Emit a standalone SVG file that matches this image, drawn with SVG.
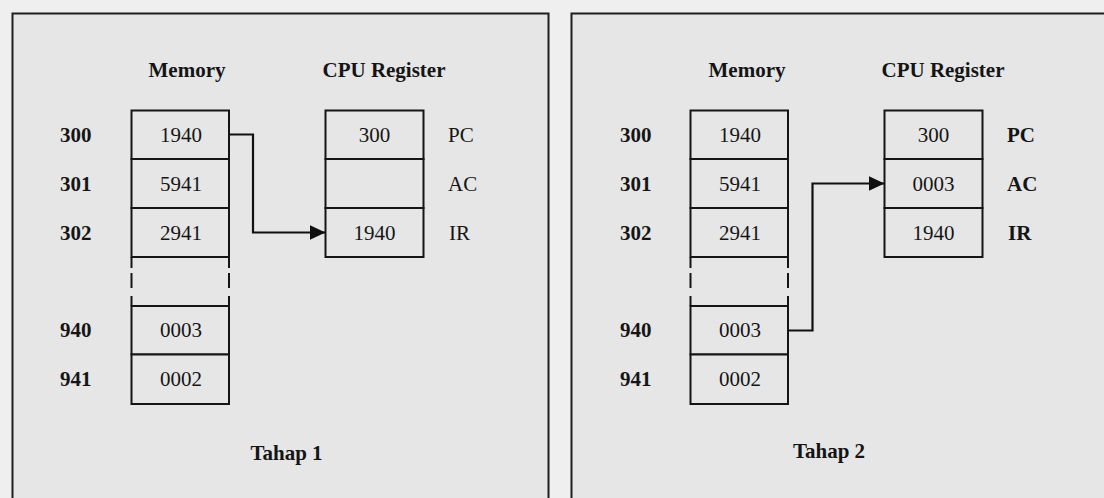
<svg xmlns="http://www.w3.org/2000/svg" width="1104" height="498" viewBox="0 0 1104 498">
<style>
text{font-family:"Liberation Serif","Times New Roman",serif;font-size:21px;fill:#151515}
.b{font-weight:bold}
.m{text-anchor:middle}
.panel{fill:#e6e6e6;stroke:#1e1e1e;stroke-width:2}
.cell{fill:#e6e6e6;stroke:#151515;stroke-width:2}
.line{fill:none;stroke:#151515;stroke-width:2}
.conn{fill:none;stroke:#101010;stroke-width:2.2}
</style>
<defs>
<marker id="ah" markerUnits="userSpaceOnUse" markerWidth="17" markerHeight="16" refX="16" refY="7.5" orient="auto">
<path d="M0,0 L16,7.5 L0,15 z" fill="#101010"/>
</marker>
</defs>
<rect x="0" y="0" width="1104" height="498" fill="#efefef"/>
<g id="panel1">
<rect class="panel" x="12.5" y="13.5" width="536" height="500"/>
</g>
<g id="panel2">
<rect class="panel" x="571.5" y="13.5" width="540" height="500"/>
</g>

<!-- Panel 1 -->
<g id="p1-headers">
<text class="b m" x="187" y="77">Memory</text>
<text class="b m" x="384" y="77">CPU Register</text>
</g>
<g id="p1-addr">
<text class="b" x="60" y="142">300</text>
<text class="b" x="60" y="190.5">301</text>
<text class="b" x="60" y="239.5">302</text>
<text class="b" x="60" y="337">940</text>
<text class="b" x="60" y="386">941</text>
</g>
<g id="p1-mem300"><rect class="cell" x="131.5" y="110.5" width="97.5" height="48.5"/><text class="m" x="181" y="142">1940</text></g>
<g id="p1-mem301"><rect class="cell" x="131.5" y="159" width="97.5" height="49"/><text class="m" x="181" y="190.5">5941</text></g>
<g id="p1-mem302"><rect class="cell" x="131.5" y="208" width="97.5" height="49"/><text class="m" x="181" y="239.5">2941</text></g>
<g id="p1-gap">
<line class="line" x1="131.5" y1="257" x2="131.5" y2="268"/>
<line class="line" x1="131.5" y1="273" x2="131.5" y2="288"/>
<line class="line" x1="131.5" y1="296" x2="131.5" y2="306"/>
<line class="line" x1="229" y1="257" x2="229" y2="268"/>
<line class="line" x1="229" y1="273" x2="229" y2="288"/>
<line class="line" x1="229" y1="296" x2="229" y2="306"/>
</g>
<g id="p1-mem940"><rect class="cell" x="131.5" y="306" width="97.5" height="48.5"/><text class="m" x="181" y="337">0003</text></g>
<g id="p1-mem941"><rect class="cell" x="131.5" y="354.5" width="97.5" height="49.5"/><text class="m" x="181" y="386">0002</text></g>
<g id="p1-pc"><rect class="cell" x="325.5" y="110.5" width="98" height="48.5"/><text class="m" x="374.5" y="142">300</text><text x="448" y="142">PC</text></g>
<g id="p1-ac"><rect class="cell" x="325.5" y="159" width="98" height="49"/><text x="448" y="190.5">AC</text></g>
<g id="p1-ir"><rect class="cell" x="325.5" y="208" width="98" height="49"/><text class="m" x="374.5" y="239.5">1940</text><text x="449" y="239.5">IR</text></g>
<g id="p1-title"><text class="b m" x="286.5" y="460">Tahap 1</text></g>

<!-- Panel 2 -->
<g id="p2-headers">
<text class="b m" x="747" y="77">Memory</text>
<text class="b m" x="943" y="77">CPU Register</text>
</g>
<g id="p2-addr">
<text class="b" x="620" y="142">300</text>
<text class="b" x="620" y="190.5">301</text>
<text class="b" x="620" y="239.5">302</text>
<text class="b" x="620" y="337">940</text>
<text class="b" x="620" y="386">941</text>
</g>
<g id="p2-mem300"><rect class="cell" x="690.5" y="110.5" width="97.5" height="48.5"/><text class="m" x="740" y="142">1940</text></g>
<g id="p2-mem301"><rect class="cell" x="690.5" y="159" width="97.5" height="49"/><text class="m" x="740" y="190.5">5941</text></g>
<g id="p2-mem302"><rect class="cell" x="690.5" y="208" width="97.5" height="49"/><text class="m" x="740" y="239.5">2941</text></g>
<g id="p2-gap">
<line class="line" x1="690.5" y1="257" x2="690.5" y2="268"/>
<line class="line" x1="690.5" y1="273" x2="690.5" y2="288"/>
<line class="line" x1="690.5" y1="296" x2="690.5" y2="306"/>
<line class="line" x1="788" y1="257" x2="788" y2="268"/>
<line class="line" x1="788" y1="273" x2="788" y2="288"/>
<line class="line" x1="788" y1="296" x2="788" y2="306"/>
</g>
<g id="p2-mem940"><rect class="cell" x="690.5" y="306" width="97.5" height="48.5"/><text class="m" x="740" y="337">0003</text></g>
<g id="p2-mem941"><rect class="cell" x="690.5" y="354.5" width="97.5" height="49.5"/><text class="m" x="740" y="386">0002</text></g>
<g id="p2-pc"><rect class="cell" x="884.5" y="110.5" width="98" height="48.5"/><text class="m" x="933.5" y="142">300</text><text class="b" x="1007" y="142">PC</text></g>
<g id="p2-ac"><rect class="cell" x="884.5" y="159" width="98" height="49"/><text class="m" x="933.5" y="190.5">0003</text><text class="b" x="1007" y="190.5">AC</text></g>
<g id="p2-ir"><rect class="cell" x="884.5" y="208" width="98" height="49"/><text class="m" x="933.5" y="239.5">1940</text><text class="b" x="1008" y="239.5">IR</text></g>
<g id="p2-title"><text class="b m" x="829" y="458">Tahap 2</text></g>

<g id="connectors">
<path class="conn" d="M229,134.5 H253 V232.5 H325.5" marker-end="url(#ah)"/>
<path class="conn" d="M788,330.5 H812.5 V183.5 H884.5" marker-end="url(#ah)"/>
</g>
</svg>
